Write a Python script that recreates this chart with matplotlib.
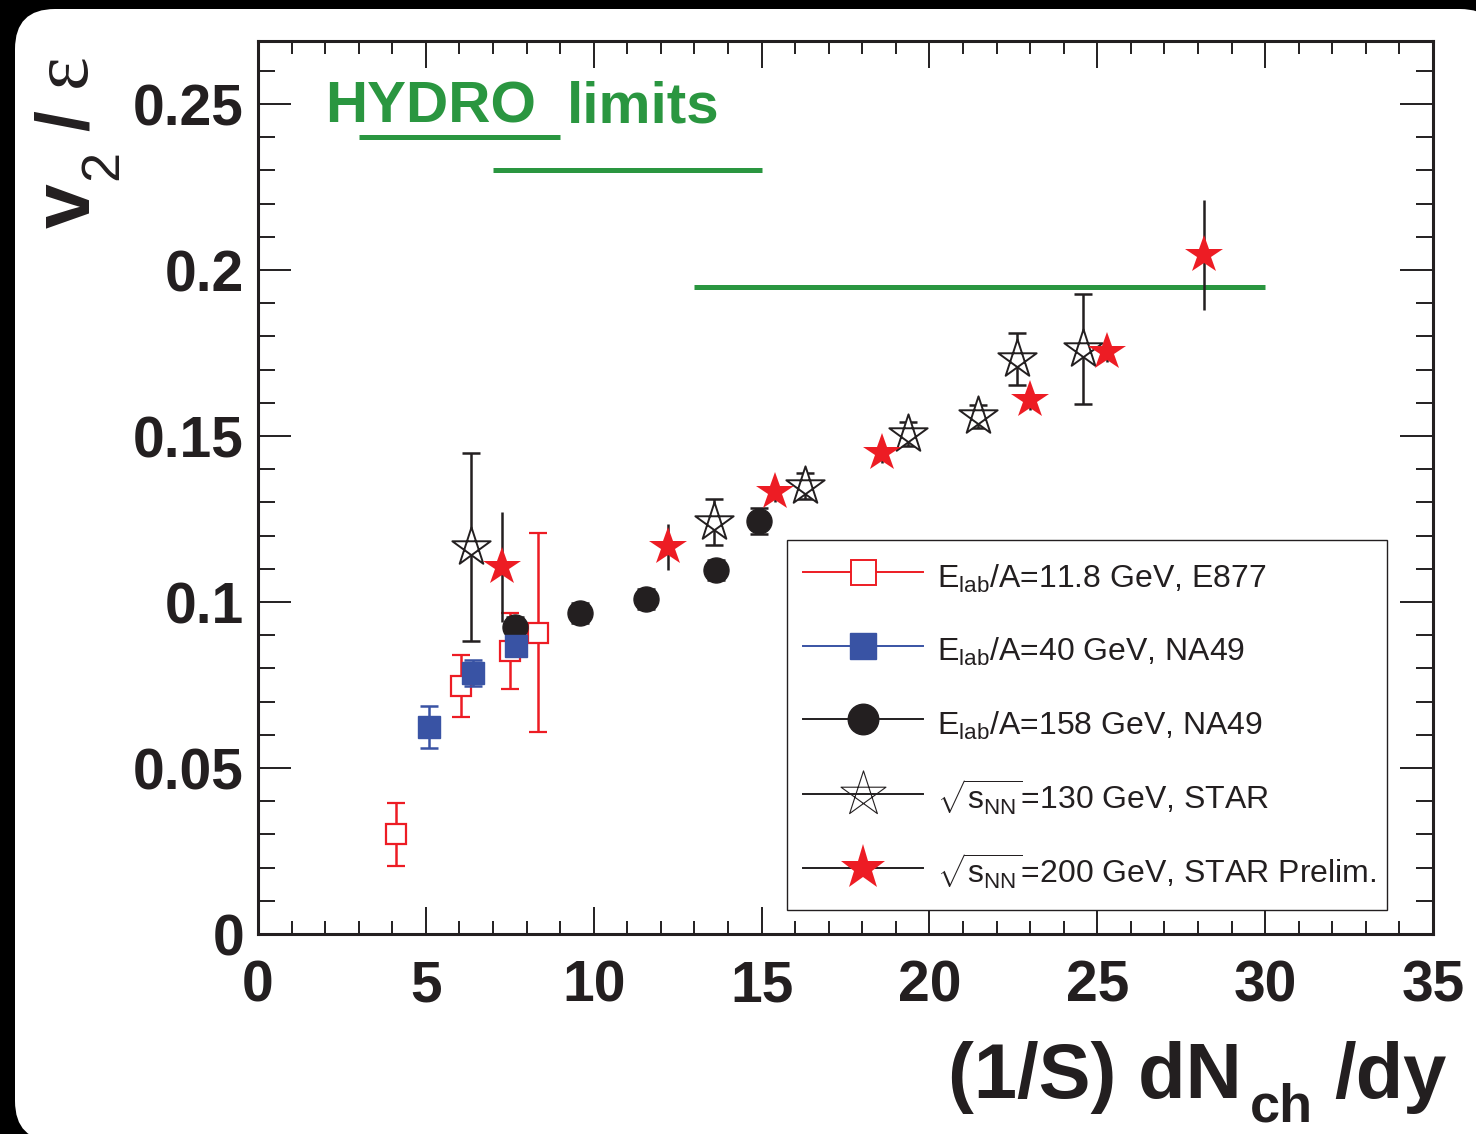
import matplotlib
matplotlib.use('Agg')
import numpy as np
import matplotlib.pyplot as plt
from matplotlib.lines import Line2D
from matplotlib.path import Path
from matplotlib.patches import FancyBboxPatch
from matplotlib.transforms import IdentityTransform
from matplotlib.ticker import MultipleLocator, FuncFormatter

# E877, Elab/A = 11.8 GeV
e877_x = [4.1, 6.05, 7.5, 8.35]
e877_y = [0.0301, 0.0748, 0.0852, 0.0907]
e877_err = [0.0095, 0.0093, 0.0115, 0.030]

# NA49, Elab/A = 40 GeV
na40_x = [5.09, 6.4, 7.69]
na40_y = [0.0623, 0.0786, 0.0867]
na40_err = [0.0063, 0.004, 0.003]

# NA49, Elab/A = 158 GeV
na158_x = [7.66, 9.59, 11.56, 13.64, 14.92]
na158_y = [0.0925, 0.0967, 0.1009, 0.1096, 0.1244]
na158_err = [0.003, 0.003, 0.003, 0.003, 0.004]

# STAR 130 GeV
star130_x = [6.34, 13.58, 16.29, 19.36, 21.45, 22.6, 24.56]
star130_y = [0.1166, 0.1241, 0.1349, 0.1506, 0.156, 0.1732, 0.1762]
star130_err = [0.0283, 0.007, 0.004, 0.0035, 0.0035, 0.0077, 0.0165]

# STAR 200 GeV prelim
star200_x = [7.27, 12.21, 15.4, 18.6, 23.0, 25.3, 28.18]
star200_y = [0.1105, 0.1166, 0.1331, 0.1449, 0.1608, 0.1753, 0.2045]
star200_err = [0.0166, 0.007, 0.003, 0.003, 0.003, 0.003, 0.0166]

# hydro limit segments
hydro_lo = [3, 7, 13]
hydro_hi = [9, 15, 30]
hydro_y = [0.24, 0.23, 0.195]

labels = [r'E$_{\mathrm{lab}}$/A=11.8 GeV, E877',
          r'E$_{\mathrm{lab}}$/A=40 GeV, NA49',
          r'E$_{\mathrm{lab}}$/A=158 GeV, NA49',
          r'$\sqrt{\mathrm{s}_{\mathrm{NN}}}$=130 GeV, STAR',
          r'$\sqrt{\mathrm{s}_{\mathrm{NN}}}$=200 GeV, STAR Prelim.']

RED = '#ed1c24'
BLUE = '#3953a4'
GREEN = '#2a9640'
INK = '#231f20'

plt.rcParams['font.family'] = 'Liberation Sans'
plt.rcParams['font.weight'] = 'bold'
plt.rcParams['mathtext.fontset'] = 'custom'
plt.rcParams['mathtext.rm'] = 'Liberation Sans:weight=normal'
plt.rcParams['mathtext.it'] = 'Liberation Sans:weight=normal'
plt.rcParams['mathtext.bf'] = 'Liberation Sans:bold'

W, H = 1476, 1134
fig = plt.figure(figsize=(W / 100, H / 100), dpi=100, facecolor='black')

# white rounded panel on black background
panel = FancyBboxPatch((15, -7), 1485, 1132, boxstyle='round,pad=0,rounding_size=40',
                       transform=IdentityTransform(), fc='white', ec='none', zorder=-5)
fig.add_artist(panel)


def px(x, y):
    return x / W, 1 - y / H


ax = fig.add_axes([258 / W, 1 - 934 / H, (1433 - 258) / W, (934 - 41) / H])
ax.set_facecolor('white')
ax.set_xlim(0, 35)
ax.set_ylim(0, 0.269)

# open pentagram marker (ROOT style open star)
angs = [90 + k * 144 for k in range(5)]
verts = [(np.cos(np.radians(a)), np.sin(np.radians(a))) for a in angs]
verts.append(verts[0])
pentagram = Path(verts, [Path.MOVETO] + [Path.LINETO] * 4 + [Path.CLOSEPOLY])

eb = dict(linestyle='none', elinewidth=1.8, capsize=6.5, capthick=1.8)

ax.hlines(hydro_y, hydro_lo, hydro_hi, colors=GREEN, lw=3.6, zorder=2)

ax.errorbar(e877_x, e877_y, yerr=e877_err, fmt='s', ms=15, mfc='white', mec=RED,
            mew=1.6, ecolor=RED, zorder=3, **eb)
ax.errorbar(na158_x, na158_y, yerr=na158_err, fmt='o', ms=18, mfc=INK, mec=INK,
            ecolor=INK, zorder=4, **eb)
ax.errorbar(na40_x, na40_y, yerr=na40_err, fmt='s', ms=16, mfc=BLUE, mec=BLUE,
            ecolor=BLUE, zorder=5, **eb)
ax.errorbar(star130_x, star130_y, yerr=star130_err, fmt='none', ecolor=INK, zorder=6, **eb)
ax.plot(star130_x, star130_y, linestyle='none', marker=pentagram, ms=29, mfc='white',
        mec=INK, mew=1.4, zorder=7)
ax.errorbar(star200_x, star200_y, yerr=star200_err, fmt='*', ms=29, mfc=RED, mec=RED,
            mew=0, ecolor=INK, zorder=8, **eb)

ax.text(2.0, 0.2443, 'HYDRO', color=GREEN, fontsize=42, fontweight='bold', va='baseline')
ax.text(9.2, 0.2443, 'limits', color=GREEN, fontsize=42, fontweight='bold', va='baseline')

# axes styling (ROOT-like ticks on all sides)
for s in ax.spines.values():
    s.set_linewidth(2.2)
    s.set_color(INK)
ax.xaxis.set_major_locator(MultipleLocator(5))
ax.xaxis.set_minor_locator(MultipleLocator(1))
ax.yaxis.set_major_locator(MultipleLocator(0.05))
ax.yaxis.set_minor_locator(MultipleLocator(0.01))
ax.yaxis.set_major_formatter(FuncFormatter(lambda v, p: '%g' % round(v, 3)))
ax.tick_params(which='both', direction='in', top=True, right=True, color=INK,
               width=1.4, labelcolor=INK, labelsize=41)
ax.tick_params(axis='x', which='major', length=19.5, pad=18)
ax.tick_params(axis='x', which='minor', length=9.4)
ax.tick_params(axis='y', which='major', length=23.8, pad=10)
ax.tick_params(axis='y', which='minor', length=12)

handles = [
    Line2D([], [], color=RED, lw=1.4, marker='s', ms=18, mfc='white', mec=RED, mew=1.4),
    Line2D([], [], color=BLUE, lw=1.4, marker='s', ms=19, mfc=BLUE, mec=BLUE),
    Line2D([], [], color=INK, lw=1.4, marker='o', ms=22, mfc=INK, mec=INK),
    Line2D([], [], color=INK, lw=1.4, marker=pentagram, ms=34, mfc='none', mec=INK, mew=0.8),
    Line2D([], [], color=INK, lw=1.4, marker='*', ms=34, mfc=RED, mec=RED, mew=0),
]
leg = ax.legend(handles, labels, loc='lower left',
                bbox_to_anchor=(529 / 1175, 24 / 893, 600 / 1175, 372 / 893),
                mode='expand', borderaxespad=0, prop={'weight': 'normal', 'size': 23},
                handlelength=3.75, handleheight=1.6, handletextpad=0.44,
                labelspacing=1.02, borderpad=0.5, fancybox=False, framealpha=1,
                edgecolor=INK, labelcolor=INK)
leg.get_frame().set_linewidth(1.0)

# x axis title
fig.text(*px(1242, 1098), '(1/S) dN', fontsize=56, fontweight='bold', color=INK,
         ha='right', va='baseline')
fig.text(*px(1250, 1121), 'ch', fontsize=39, fontweight='bold', color=INK,
         ha='left', va='baseline')
fig.text(*px(1447, 1098), '/dy', fontsize=56, fontweight='bold', color=INK,
         ha='right', va='baseline')

# y axis title
rot = dict(rotation=90, rotation_mode='anchor', ha='left', va='baseline', color=INK)
fig.text(*px(90, 228), 'v', fontsize=58, fontweight='bold', **rot)
fig.text(*px(117, 180), '2', fontsize=39, fontweight='normal', **rot)
fig.text(*px(88, 131), '/', fontsize=54, fontweight='bold', **rot)
fig.text(*px(85, 87), '\u03b5', fontsize=58, fontweight='normal',
         family='Liberation Serif', **rot)

fig.savefig('out.png', dpi=100, facecolor='black')
